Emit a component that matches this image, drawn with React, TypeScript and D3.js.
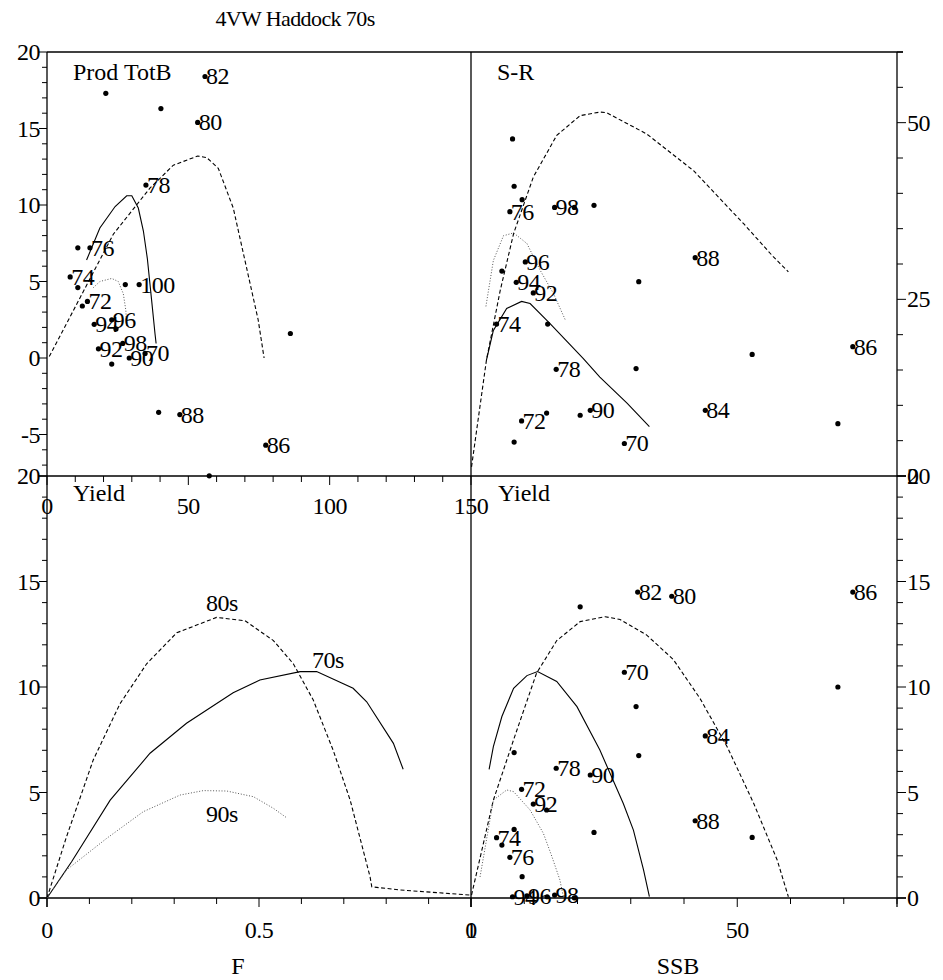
import React from "react";
import * as d3 from "d3";

type P = [number, number, string?];

// Top-left: Production vs Total Biomass
const prodPts: P[] = [
  [20.8, 17.3], [55.9, 18.4, "82"], [40.3, 16.3], [53.3, 15.4, "80"], [35.0, 11.3, "78"],
  [10.9, 7.2], [15.2, 7.2, "76"], [8.2, 5.3, "74"], [10.9, 4.6], [27.7, 4.8], [32.6, 4.8, "100"],
  [14.3, 3.7, "72"], [12.5, 3.4], [16.7, 2.2, "94"], [22.9, 2.5, "96"], [24.4, 1.9],
  [18.2, 0.6, "92"], [26.8, 0.95, "98"], [29.1, 0, "90"], [34.7, 0.3, "70"], [22.9, -0.4],
  [86.1, 1.6], [39.5, -3.55], [47.0, -3.7, "88"], [77.4, -5.7, "86"], [57.4, -7.7],
];
const prodSolid: [number, number][] = [[14.0, 6.4], [18.7, 8.5], [24.1, 9.9], [28.2, 10.6], [30, 10.6], [32.3, 9.8], [34.1, 8.3], [35.5, 6.5], [37.0, 3.8], [38.2, 1.6], [38.6, 0.95]];
const prodDashed: [number, number][] = [[0.8, 0.1], [23.5, 8.1], [36.4, 11.1], [44.7, 12.6], [53.3, 13.2], [56.5, 13.1], [60.6, 12.4], [65.9, 9.8], [70.6, 5.9], [74.7, 2.5], [76.8, 0]];
const prodDotted: [number, number][] = [[16.4, 4.6], [18.7, 5.0], [22.9, 5.2], [25.2, 5.0], [27, 4.2], [27.9, 3.1], [28.2, 2.0]];

// Top-right: Stock-Recruitment
const srPts: P[] = [
  [7.8, 47.7], [8.1, 41.0], [9.6, 39.1], [7.3, 37.4, "76"], [15.7, 38.0, "98"], [19.4, 38.0], [23.1, 38.3],
  [42.1, 30.9, "88"], [10.2, 30.3, "96"], [5.8, 29.0], [8.5, 27.4, "94"], [11.7, 25.9, "92"], [31.5, 27.5],
  [4.8, 21.5, "74"], [14.4, 21.5], [71.7, 18.3, "86"], [52.8, 17.2], [16.0, 15.1, "78"], [31.0, 15.2],
  [22.4, 9.3, "90"], [20.5, 8.6], [44, 9.3, "84"], [9.5, 7.8, "72"], [14.2, 8.9], [68.9, 7.4], [8.1, 4.8], [28.8, 4.6, "70"],
];
const srDashed: [number, number][] = [[0.1, 1.3], [2.9, 16.4], [5.5, 26.3], [8, 34.3], [11.7, 42.3], [16.1, 48.2], [20.5, 51.0], [24.2, 51.5], [25.5, 51.4], [33, 48.4], [41.8, 43.2], [51.2, 35.7], [56.8, 31.0], [59.6, 28.9]];
const srSolid: [number, number][] = [[2.9, 16.4], [4.2, 20.6], [6.7, 23.7], [9.5, 24.7], [11.1, 24.4], [14.8, 21.6], [21.1, 16.6], [24.2, 14.0], [29.3, 10.3], [33.5, 7.0]];
const srDotted: [number, number][] = [[2.8, 24.0], [4.2, 30.5], [6.1, 34.0], [8.0, 34.4], [10.5, 32.9], [13, 29.1], [15.5, 25.8], [17.7, 22.1]];

// Bottom-left: Yield per F
const yf70: [number, number][] = [[0, 0], [0.058, 1.72], [0.149, 4.64], [0.243, 6.86], [0.329, 8.28], [0.439, 9.73], [0.502, 10.33], [0.597, 10.73], [0.636, 10.73], [0.722, 9.94], [0.754, 9.3], [0.817, 7.33], [0.84, 6.1]];
const yf80: [number, number][] = [[0, 0], [0.046, 2.9], [0.109, 6.54], [0.172, 9.2], [0.235, 11.1], [0.306, 12.57], [0.4, 13.3], [0.467, 13.14], [0.534, 12.2], [0.581, 11.1], [0.628, 9.38], [0.675, 7.0], [0.715, 4.64], [0.762, 1.0], [0.766, 0.53], [0.833, 0.38], [0.998, 0.14]];
const yf90: [number, number][] = [[0, 0], [0.046, 1.33], [0.141, 2.83], [0.227, 4.09], [0.314, 4.88], [0.369, 5.09], [0.424, 5.07], [0.487, 4.8], [0.534, 4.25], [0.564, 3.82]];
const yfLabels: P[] = [[0.375, 13.6, "80s"], [0.625, 10.9, "70s"], [0.375, 3.6, "90s"]];

// Bottom-right: Yield vs SSB
const ysPts: P[] = [
  [20.5, 13.8], [31.3, 14.5, "82"], [37.7, 14.3, "80"], [71.7, 14.5, "86"], [28.8, 10.7, "70"], [68.9, 10.0],
  [31.0, 9.07], [44, 7.68, "84"], [8.1, 6.89], [31.5, 6.75], [16.0, 6.15, "78"], [22.4, 5.83, "90"],
  [9.5, 5.15, "72"], [11.7, 4.45, "92"], [14.2, 4.17], [42.1, 3.66, "88"], [23.1, 3.11], [52.8, 2.87],
  [4.8, 2.86, "74"], [8.1, 3.25], [5.8, 2.51], [7.3, 1.93, "76"], [9.6, 1.01], [7.8, 0.06, "94"],
  [10.5, 0.1, "96"], [14.3, 0.06], [15.7, 0.14, "98"], [19.4, 0.01],
];
const ysDashed: [number, number][] = [[0.1, 0.14], [4.2, 4.64], [8, 7.5], [12.3, 10.65], [16.1, 12.2], [20.5, 13.1], [25.2, 13.33], [28, 13.2], [33, 12.46], [38, 11.3], [43, 9.46], [48.1, 7.17], [53.1, 4.48], [57.5, 1.8], [59.6, 0.06]];
const ysSolid: [number, number][] = [[3.4, 6.1], [4.2, 7.17], [5.8, 8.6], [8, 9.94], [10.5, 10.54], [12.5, 10.73], [16.1, 10.26], [19.9, 9.07], [24.2, 7.01], [28.6, 4.48], [30.5, 3.22], [32.4, 1.33], [33.5, 0.06]];
const ysDotted: [number, number][] = [[1.7, 1.0], [4.2, 4.64], [6.7, 5.12], [8, 5.04], [11.1, 4.17], [13.6, 3.06], [15.2, 1.96], [16.7, 0.85], [17.3, 0.1]];

const L = 47, M = 471, R = 897, T = 52, H = 476, B = 898;
const FS = { fontFamily: "'Liberation Serif', 'Times New Roman', Times, serif" };

const xTL = d3.scaleLinear().domain([0, 150]).range([L, M]);
const yTL = d3.scaleLinear().domain([0, 20]).range([358, T]);
const xTR = d3.scaleLinear().domain([0, 80]).range([M, R]);
const yTR = d3.scaleLinear().domain([0, 60]).range([H, T]);
const xBL = d3.scaleLinear().domain([0, 1]).range([L, M]);
const yB = d3.scaleLinear().domain([0, 20]).range([B, H]);
const xBR = d3.scaleLinear().domain([0, 80]).range([M, R]);

const DASH = "4,2.5";
const DOT = "1,1.8";

function curve(pts: [number, number][], xs: any, ys: any, dash?: string, key?: string) {
  const g = d3.line<[number, number]>().x(d => xs(d[0])).y(d => ys(d[1]));
  return <path key={key} d={g(pts) || ""} fill="none" stroke={dash === DOT ? "#555" : "#000"} strokeWidth={dash === DOT ? 1 : 1.1} strokeDasharray={dash} />;
}

function points(pts: P[], xs: any, ys: any, pre: string) {
  return pts.map((p, i) => (
    <g key={pre + i}>
      <circle cx={xs(p[0])} cy={ys(p[1])} r={2.6} fill="#000" />
      {p[2] && <text x={xs(p[0]) + 1} y={ys(p[1]) + 8} fontSize={24} style={FS} letterSpacing={-0.5}>{p[2]}</text>}
    </g>
  ));
}

export default function App() {
  const ticks: JSX.Element[] = [];
  const tl = (x1: number, y1: number, x2: number, y2: number) => ticks.push(<line key={ticks.length} x1={x1} y1={y1} x2={x2} y2={y2} stroke="#000" strokeWidth={1} />);
  const lab: JSX.Element[] = [];
  const tx = (x: number, y: number, s: string, anchor: string) => lab.push(<text key={lab.length} x={x} y={y} fontSize={24} style={FS} textAnchor={anchor} letterSpacing={-0.5}>{s}</text>);

  d3.range(-7, 21).forEach(v => { tl(L, yTL(v), L - (v % 5 === 0 ? 8 : 5), yTL(v)); });
  [20, 15, 10, 5, 0, -5].forEach(v => tx(L - 7, yTL(v) + 8, String(v), "end"));
  d3.range(0, 21).forEach(v => { tl(L, yB(v), L - (v % 5 === 0 ? 8 : 5), yB(v)); });
  [20, 15, 10, 5, 0].forEach(v => tx(L - 7, yB(v) + 8, String(v), "end"));
  d3.range(0, 61, 5).forEach(v => { tl(R, yTR(v), R + (v % 25 === 0 ? 9 : 6), yTR(v)); });
  [50, 25, 0].forEach(v => tx(R + 10, yTR(v) + 8, String(v), "start"));
  d3.range(0, 21).forEach(v => { tl(R, yB(v), R + (v % 5 === 0 ? 9 : 6), yB(v)); });
  [20, 15, 10, 5, 0].forEach(v => tx(R + 10, yB(v) + 8, String(v), "start"));
  d3.range(0, 151, 10).forEach(v => tl(xTL(v), H, xTL(v), H + (v % 50 === 0 ? 9 : 6)));
  [0, 50, 100, 150].forEach(v => tx(xTL(v), H + 38, String(v), "middle"));
  d3.range(0, 11).forEach(i => { const v = i / 10; tl(xBL(v), B, xBL(v), B + (i % 5 === 0 ? 9 : 6)); });
  [[0, "0"], [0.5, "0.5"], [1, "1"]].forEach(([v, s]) => tx(xBL(v as number), B + 40, s as string, "middle"));
  d3.range(0, 81, 10).forEach(v => tl(xBR(v), B, xBR(v), B + (v % 50 === 0 ? 9 : 6)));
  [0, 50].forEach(v => tx(xBR(v), B + 40, String(v), "middle"));

  return (
    <svg width={943} height={980} style={{ display: "block", position: "absolute", left: 0, top: 0 }}>
      <rect width={943} height={980} fill="#fff" />
      <text x={295} y={26} fontSize={22} style={FS} textAnchor="middle" letterSpacing={-0.6}>4VW Haddock 70s</text>
      <line x1={L} y1={T} x2={R + 6} y2={T} stroke="#000" strokeWidth={1.3} />
      <line x1={L - 8} y1={H} x2={R + 9} y2={H} stroke="#000" strokeWidth={1.3} />
      <line x1={L - 8} y1={B} x2={R + 9} y2={B} stroke="#000" strokeWidth={1.3} />
      <line x1={L} y1={T} x2={L} y2={B + 9} stroke="#000" strokeWidth={1.3} />
      <line x1={M} y1={T} x2={M} y2={B + 9} stroke="#000" strokeWidth={1.3} />
      <line x1={R} y1={T} x2={R} y2={B + 9} stroke="#000" strokeWidth={1.3} />
      {ticks}
      {lab}
      <text x={73} y={80} fontSize={24} style={FS}>Prod TotB</text>
      <text x={497} y={80} fontSize={24} style={FS}>S-R</text>
      <text x={73} y={501} fontSize={24} style={FS}>Yield</text>
      <text x={498} y={501} fontSize={24} style={FS}>Yield</text>
      <text x={238} y={974} fontSize={24} style={FS} textAnchor="middle">F</text>
      <text x={678} y={974} fontSize={24} style={FS} textAnchor="middle">SSB</text>

      {curve(prodSolid, xTL, yTL, undefined, "ps")}
      {curve(prodDashed, xTL, yTL, DASH, "pd")}
      {curve(prodDotted, xTL, yTL, DOT, "pt")}
      {points(prodPts, xTL, yTL, "p")}

      {curve(srSolid, xTR, yTR, undefined, "ss")}
      {curve(srDashed, xTR, yTR, DASH, "sd")}
      {curve(srDotted, xTR, yTR, DOT, "st")}
      {points(srPts, xTR, yTR, "s")}

      {curve(yf70, xBL, yB, undefined, "f7")}
      {curve(yf80, xBL, yB, DASH, "f8")}
      {curve(yf90, xBL, yB, DOT, "f9")}
      {yfLabels.map((p, i) => <text key={"fl" + i} x={xBL(p[0])} y={yB(p[1])} fontSize={24} style={FS} letterSpacing={-0.5}>{p[2]}</text>)}

      {curve(ysSolid, xBR, yB, undefined, "ys")}
      {curve(ysDashed, xBR, yB, DASH, "yd")}
      {curve(ysDotted, xBR, yB, DOT, "yt")}
      {points(ysPts, xBR, yB, "y")}
    </svg>
  );
}
